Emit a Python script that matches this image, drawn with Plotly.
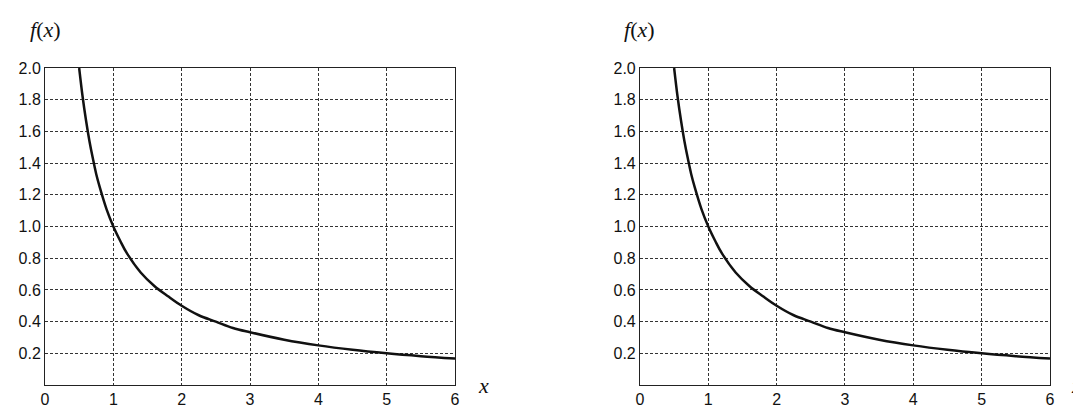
import plotly.graph_objects as go
from plotly.subplots import make_subplots

x_vals = [0.5, 0.55, 0.6, 0.65, 0.7, 0.75, 0.8, 0.9, 1.0, 1.1, 1.2, 1.4, 1.6, 1.8, 2.0,
          2.25, 2.5, 2.75, 3.0, 3.5, 4.0, 4.5, 5.0, 5.5, 6.0]
y_vals = [2.0, 1.82, 1.67, 1.54, 1.43, 1.33, 1.25, 1.11, 1.0, 0.91, 0.83, 0.71, 0.625, 0.56, 0.5,
          0.44, 0.4, 0.36, 0.333, 0.286, 0.25, 0.222, 0.2, 0.182, 0.167]
x_ticks = [0, 1, 2, 3, 4, 5, 6]
y_ticks = [0.2, 0.4, 0.6, 0.8, 1.0, 1.2, 1.4, 1.6, 1.8, 2.0]
y_labels = ["0.2", "0.4", "0.6", "0.8", "1.0", "1.2", "1.4", "1.6", "1.8", "2.0"]

fig = make_subplots(rows=1, cols=2)
fig.update_layout(
    xaxis=dict(domain=[0, 0.408]),
    xaxis2=dict(domain=[0.592, 1.0]),
)

for col in (1, 2):
    fig.add_trace(go.Scatter(x=x_vals, y=y_vals, mode="lines", line=dict(color="#111", width=2.5, shape="spline"),
                             showlegend=False), row=1, col=col)
    fig.update_xaxes(range=[0, 6], tickvals=x_ticks, showgrid=True, gridcolor="#333", griddash="3px,2px",
                     gridwidth=0.7, showline=True, linecolor="#222", mirror=True, zeroline=False, ticks="",
                     automargin=False, row=1, col=col)
    fig.update_yaxes(range=[0, 2], tickvals=y_ticks, ticktext=y_labels, showgrid=True, gridcolor="#333",
                     griddash="3px,2px", gridwidth=0.7, showline=True, linecolor="#222", mirror=True,
                     zeroline=False, ticks="", automargin=False, row=1, col=col)

serif = dict(family="Liberation Serif", size=22, color="#111")
for fx, xx in ((0.0, 0.436), (0.592, 1.026)):
    fig.add_annotation(x=fx, y=1.12, xref="paper", yref="paper", text="<i>f</i>(<i>x</i>)",
                       showarrow=False, font=serif, xanchor="center", yanchor="middle")
    fig.add_annotation(x=xx, y=0.0, xref="paper", yref="paper", text="<i>x</i>",
                       showarrow=False, font=serif, xanchor="center", yanchor="middle")

fig.update_layout(
    width=1081, height=406, margin=dict(l=37, r=39, t=60, b=29),
    paper_bgcolor="white", plot_bgcolor="white",
    font=dict(family="Liberation Sans", size=16, color="#111"),
)
fig.write_html("out.html")
